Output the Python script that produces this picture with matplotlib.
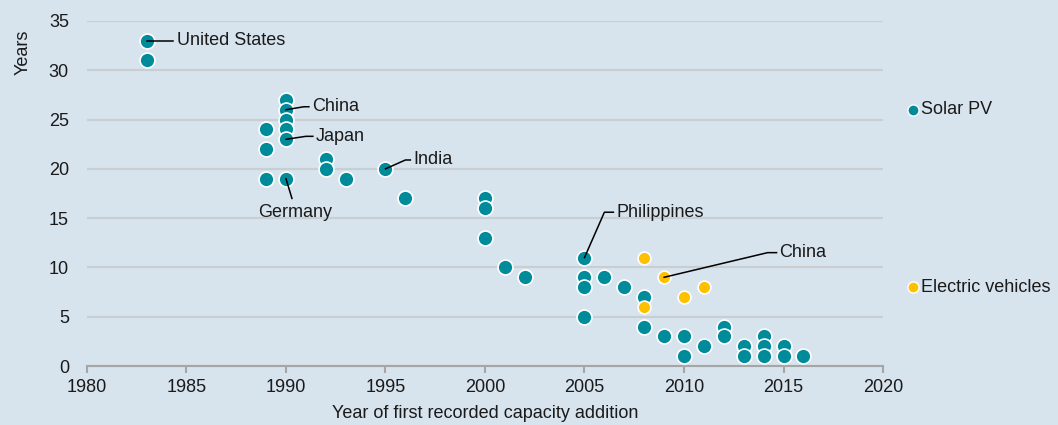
import matplotlib
matplotlib.use("Agg")
import matplotlib.pyplot as plt

# ============================================================
# DATA
# ============================================================

pv_years = [1983, 1983,
            1989, 1989, 1989,
            1990, 1990, 1990, 1990, 1990, 1990,
            1992, 1992, 1993, 1995, 1996,
            2000, 2000, 2000, 2001, 2002,
            2005, 2005, 2005, 2005, 2006, 2007,
            2008, 2008, 2009, 2010, 2010, 2011,
            2012, 2012, 2013, 2013, 2014, 2014, 2014,
            2015, 2015, 2016]
pv_values = [33, 31,
             24, 22, 19,
             27, 26, 25, 24, 23, 19,
             21, 20, 19, 20, 17,
             17, 16, 13, 10, 9,
             11, 9, 8, 5, 9, 8,
             7, 4, 3, 3, 1, 2,
             4, 3, 2, 1, 3, 2, 1,
             2, 1, 1]

ev_years = [2008, 2008, 2009, 2010, 2011]
ev_values = [11, 6, 9, 7, 8]

# labelled points: (label, year, value, text year, text value, ha, kink)
labels = [
    ("United States", 1983, 33, 1984.5, 33, "left", None),
    ("China", 1990, 26, 1991.3, 26.3, "left", (1990.9, 26.3)),
    ("Japan", 1990, 23, 1991.5, 23.3, "left", (1991.0, 23.3)),
    ("Germany", 1990, 19, 1990.45, 15.6, "center", None),
    ("India", 1995, 20, 1996.4, 20.9, "left", (1996.0, 20.9)),
    ("Philippines", 2005, 11, 2006.6, 15.6, "left", (2006.0, 15.6)),
    ("China", 2009, 9, 2014.8, 11.5, "left", (2014.2, 11.5)),
]

PV_COLOR = "#008b9b"
EV_COLOR = "#ffc000"
BG = "#d7e3ed"
TXT = "#1a1a1a"
FS = 13

plt.rcParams["font.family"] = ["Liberation Sans", "DejaVu Sans"]

fig = plt.figure(figsize=(10.58, 4.25), dpi=100, facecolor=BG)
ax = fig.add_axes([0.0822, 0.1388, 0.7524, 0.8118], facecolor=BG)

for lab, x0, y0, tx, ty, ha, kink in labels:
    if lab == "Germany":
        ax.plot([x0, x0 + 0.3], [y0, 17.0], color="black", lw=1.1, zorder=4)
    elif kink is None:
        ax.plot([x0, tx - 0.2], [y0, ty], color="black", lw=1.1, zorder=4)
    else:
        ax.plot([x0, kink[0], tx - 0.15], [y0, kink[1], kink[1]], color="black", lw=1.1, zorder=4)
    ax.text(tx, ty, lab, ha=ha, va="center", fontsize=FS, color=TXT)

ax.scatter(pv_years, pv_values, s=115, color=PV_COLOR, edgecolors="white",
           linewidths=1.2, zorder=3)
ax.scatter(ev_years, ev_values, s=85, color=EV_COLOR, edgecolors="white",
           linewidths=1.2, zorder=3)

ax.set_xlim(1980, 2020)
ax.set_ylim(0, 35)
ax.set_xticks(range(1980, 2021, 5))
ax.set_yticks(range(0, 36, 5))
ax.grid(axis="y", color="#c9ced3", lw=1.5)
ax.set_axisbelow(True)
for s in ["top", "right", "left"]:
    ax.spines[s].set_visible(False)
ax.spines["bottom"].set_color("#a6a6a6")
ax.spines["bottom"].set_linewidth(1.5)
ax.tick_params(axis="x", colors="#a6a6a6", length=5, width=1.5, labelcolor=TXT,
               labelsize=FS, pad=4)
ax.tick_params(axis="y", length=0, labelcolor=TXT, labelsize=FS, pad=13)
ax.set_xlabel("Year of first recorded capacity addition", fontsize=FS, color=TXT, labelpad=7)
ax.set_ylabel("Years", fontsize=FS, color=TXT, va="center")
ax.yaxis.set_label_coords(-0.08, 0.91)

# right-hand series labels
fig.add_artist(plt.Line2D([913 / 1058], [1 - 110 / 425], marker="o", markersize=8,
                          color=PV_COLOR, markeredgecolor="white", markeredgewidth=1,
                          transform=fig.transFigure))
fig.text(921 / 1058, 1 - 110 / 425, "Solar PV", ha="left", va="center",
         fontsize=FS, color=TXT)
fig.add_artist(plt.Line2D([913 / 1058], [1 - 287 / 425], marker="o", markersize=8,
                          color=EV_COLOR, markeredgecolor="white", markeredgewidth=1,
                          transform=fig.transFigure))
fig.text(921 / 1058, 1 - 287 / 425, "Electric vehicles", ha="left", va="center",
         fontsize=FS, color=TXT)

fig.savefig("out.png", dpi=100, facecolor=BG)
